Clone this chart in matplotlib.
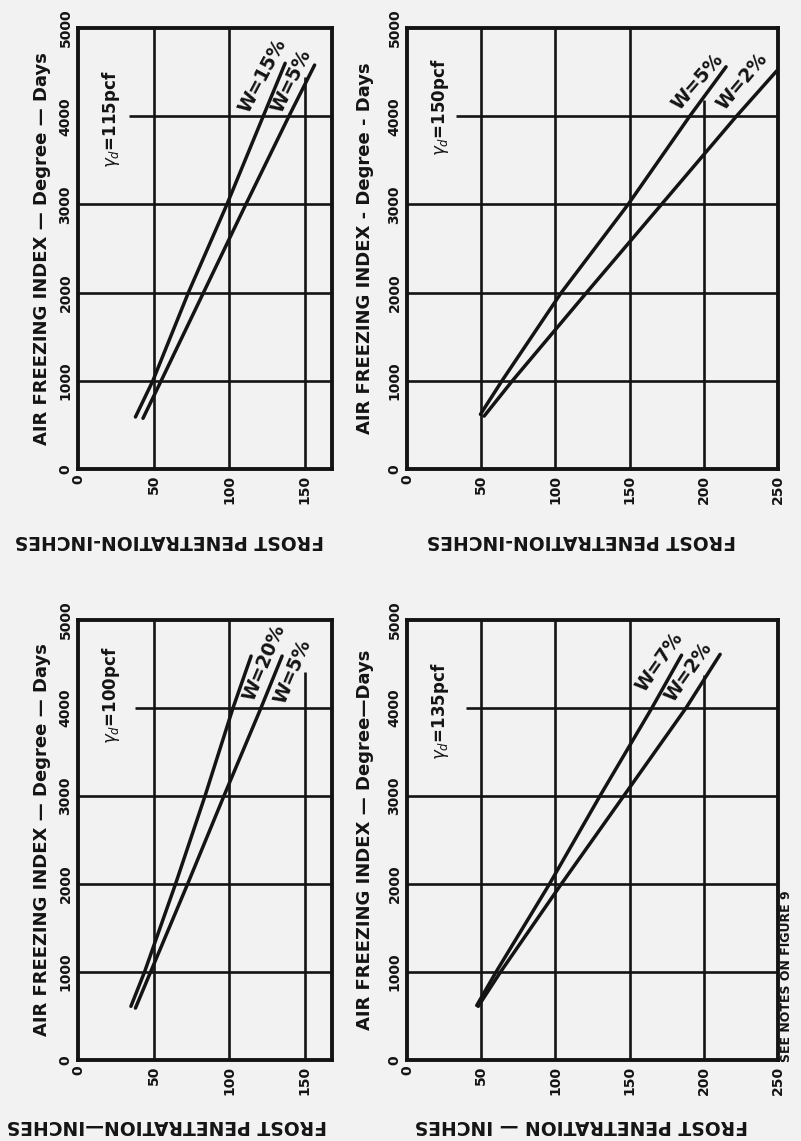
import matplotlib.pyplot as plt

# frost penetration (inches) read at air freezing index (degree-days)
idx_115_w15 = [590, 1000, 2000, 3000, 4000, 4600]
pen_115_w15 = [38, 49.5, 73, 98.5, 122.5, 137]
idx_115_w5 = [575, 1000, 2000, 3000, 4000, 4580]
pen_115_w5 = [43, 55, 83, 111, 139.5, 156.5]

idx_150_w5 = [620, 1000, 2000, 3000, 4000, 4560]
pen_150_w5 = [49.5, 64, 104, 149, 190.5, 215]
idx_150_w2 = [600, 1000, 2000, 3000, 4000, 4530]
pen_150_w2 = [52, 71, 121, 171.5, 222, 250]

idx_100_w20 = [610, 1000, 2000, 3000, 4000, 4590]
pen_100_w20 = [35, 44, 64.5, 84, 102.5, 114.5]
idx_100_w5 = [590, 1000, 2000, 3000, 4000, 4590]
pen_100_w5 = [38, 48, 72.5, 96.5, 121, 135]

idx_135_w7 = [620, 1000, 2000, 3000, 4000, 4600]
pen_135_w7 = [47, 60, 96, 130, 165, 185]
idx_135_w2 = [610, 1000, 2000, 3000, 4000, 4610]
pen_135_w2 = [48, 63, 104, 146, 188, 211]

yticks = [0, 1000, 2000, 3000, 4000, 5000]
xticks_short = [0, 50, 100, 150]
xticks_long = [0, 50, 100, 150, 200, 250]

ink = '#141414'
paper = '#f2f2f2'

plt.rcParams['font.family'] = ['DejaVu Sans']
plt.rcParams['mathtext.fontset'] = 'dejavusans'

W, H = 801, 1141
fig = plt.figure(figsize=(W / 100, H / 100), dpi=100, facecolor=paper)

# box in pixels: left, top, right, bottom
panels = [
    dict(box=(78, 28, 332, 469), xmax=168, xticks=xticks_short, gamma='115', gamma_xy=(22, 3970),
         curves=[(pen_115_w15, idx_115_w15, 'W=15%', (122, 4460), 62),
                 (pen_115_w5, idx_115_w5, 'W=5%', (141, 4400), 64)],
         h_start=34, vcut=(150, 4450), ylab_px=42, xlab_x=0.36, xlab_px=540,
         xlab='FROST PENETRATION-INCHES', ylab='AIR FREEZING INDEX — Degree — Days'),
    dict(box=(407, 28, 778, 469), xmax=250, xticks=xticks_long, gamma='150', gamma_xy=(22, 4100),
         curves=[(pen_150_w5, idx_150_w5, 'W=5%', (196, 4390), 49),
                 (pen_150_w2, idx_150_w2, 'W=2%', (226, 4390), 50)],
         h_start=33, vcut=(200, 4184), ylab_px=365, xlab_x=0.47, xlab_px=540,
         xlab='FROST PENETRATION-INCHES', ylab='AIR FREEZING INDEX - Degree - Days'),
    dict(box=(78, 620, 332, 1060), xmax=168, xticks=xticks_short, gamma='100', gamma_xy=(22, 4150),
         curves=[(pen_100_w20, idx_100_w20, 'W=20%', (123, 4520), 67),
                 (pen_100_w5, idx_100_w5, 'W=5%', (142, 4410), 67)],
         h_start=38, vcut=(150, 4410), ylab_px=42, xlab_x=0.35, xlab_px=1125,
         xlab='FROST PENETRATION—INCHES', ylab='AIR FREEZING INDEX — Degree — Days'),
    dict(box=(407, 620, 778, 1060), xmax=250, xticks=xticks_long, gamma='135', gamma_xy=(22, 3960),
         curves=[(pen_135_w7, idx_135_w7, 'W=7%', (170, 4520), 55),
                 (pen_135_w2, idx_135_w2, 'W=2%', (190, 4410), 55)],
         h_start=40, vcut=(200, 4375), ylab_px=365, xlab_x=0.47, xlab_px=1125,
         xlab='FROST PENETRATION — INCHES', ylab='AIR FREEZING INDEX — Degree—Days'),
]

for p in panels:
    l, t, r, b = p['box']
    ax = fig.add_axes([l / W, 1 - b / H, (r - l) / W, (b - t) / H])
    ax.set_facecolor(paper)
    ax.set_xlim(0, p['xmax'])
    ax.set_ylim(0, 5000)

    # grid, with the gaps left for the labels
    for xv in p['xticks'][1:]:
        if xv >= p['xmax']:
            continue
        top = p['vcut'][1] if xv == p['vcut'][0] else 5000
        ax.vlines(xv, 0, top, color=ink, lw=1.9, zorder=1)
    for yv in yticks[1:-1]:
        start = p['h_start'] if yv == 4000 else 0
        ax.hlines(yv, start, p['xmax'], color=ink, lw=1.9, zorder=1)

    for pen, idx, lab, (lx, ly), ang in p['curves']:
        ax.plot(pen, idx, color=ink, lw=2.5, solid_capstyle='round', zorder=3)
        ax.text(lx, ly, lab, rotation=ang, ha='center', va='center', fontsize=13.5,
                fontweight='bold', color=ink, zorder=4)

    ax.text(p['gamma_xy'][0], p['gamma_xy'][1], r'$\gamma_d$=' + p['gamma'] + 'pcf',
            rotation=90, ha='center', va='center', fontsize=12, fontweight='bold', color=ink)

    ax.set_xticks(p['xticks'])
    ax.set_yticks(yticks)
    ax.set_xticklabels([str(v) for v in p['xticks']], rotation=90, fontsize=10, fontweight='bold', color=ink)
    ax.set_yticklabels([str(v) for v in yticks], rotation=90, va='center', fontsize=10, fontweight='bold', color=ink)
    ax.tick_params(length=0, pad=4)
    for s in ax.spines.values():
        s.set_linewidth(2.8)
        s.set_color(ink)

    ax.text((p['ylab_px'] - l) / (r - l), 0.5, p['ylab'], transform=ax.transAxes, rotation=90,
            ha='center', va='center', fontsize=13, fontweight='bold', color=ink)
    ax.text(p['xlab_x'], (b - p['xlab_px']) / (b - t), p['xlab'], transform=ax.transAxes, rotation=180,
            ha='center', va='center', fontsize=13.5, fontweight='bold', color=ink)

fig.text(787 / W, 1 - 1062 / H, 'SEE NOTES ON FIGURE 9', rotation=90, ha='center', va='bottom',
         fontsize=9, fontweight='bold', color=ink)

fig.savefig('out.png', dpi=100, facecolor=paper)
